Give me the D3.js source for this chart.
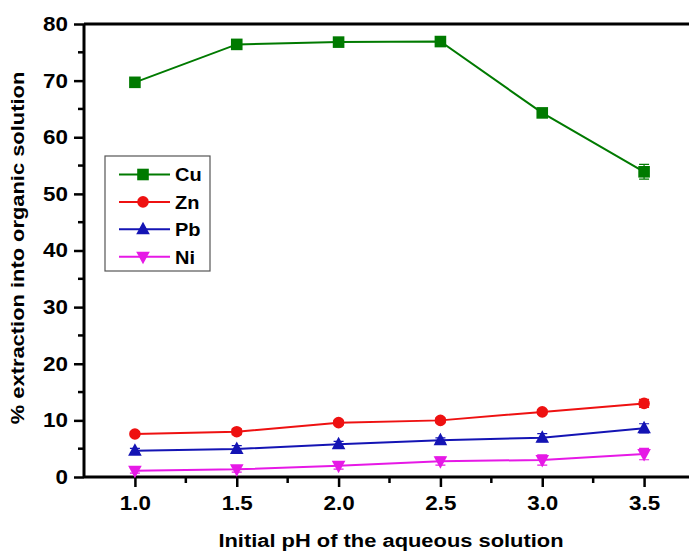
<!DOCTYPE html>
<html>
<head>
<meta charset="utf-8">
<script src="https://cdn.jsdelivr.net/npm/d3@7/dist/d3.min.js"></script>
<style>
  html, body { margin: 0; padding: 0; background: #fff; }
  svg { display: block; font-family: Arial, "Liberation Sans", sans-serif; }
</style>
</head>
<body>
<svg id="chart" width="689" height="554"></svg>
<script>
// pH values of the aqueous phase
const phValues = [1.0, 1.5, 2.0, 2.5, 3.0, 3.5];

// % extraction into the organic phase, per metal
const cuValues = [69.7, 76.4, 76.8, 76.9, 64.3, 53.9];
const znValues = [7.6, 8.0, 9.6, 10.0, 11.5, 13.0];
const pbValues = [4.65, 4.95, 5.8, 6.5, 6.95, 8.6];
const niValues = [1.1, 1.35, 2.0, 2.8, 3.0, 4.05];

// standard deviations (error bars)
const cuErrors = [0.4, 0.5, 0.4, 0.7, 0.6, 1.3];
const znErrors = [0.4, 0.5, 0.4, 0.4, 0.4, 0.7];
const pbErrors = [0.4, 0.6, 0.5, 0.4, 0.7, 0.8];
const niErrors = [0.4, 0.5, 0.6, 0.7, 0.9, 1.0];

const seriesNames = ["Cu", "Zn", "Pb", "Ni"];
const xTicks = [1.0, 1.5, 2.0, 2.5, 3.0, 3.5];
const yTicks = [0, 10, 20, 30, 40, 50, 60, 70, 80];

const series = [
  { name: "Cu", values: cuValues, errors: cuErrors, color: "#007a00", symbol: "square" },
  { name: "Zn", values: znValues, errors: znErrors, color: "#ee1111", symbol: "circle" },
  { name: "Pb", values: pbValues, errors: pbErrors, color: "#1414b4", symbol: "up" },
  { name: "Ni", values: niValues, errors: niErrors, color: "#e619e6", symbol: "down" }
];

const svg = d3.select("#chart");
const plot = { left: 84, right: 695, top: 24, bottom: 477 };

const x = d3.scaleLinear().domain([0.75, 3.75]).range([plot.left, plot.right]);
const y = d3.scaleLinear().domain([0, 80]).range([plot.bottom, plot.top]);

// widen a text element along its own baseline by the given factor
function widen(sel, factor) {
  sel.each(function () {
    const w = this.getComputedTextLength();
    d3.select(this).attr("textLength", w * factor).attr("lengthAdjust", "spacingAndGlyphs");
  });
}

// marker shapes
function markerPath(sym) {
  if (sym === "square") return "M-5.8,-5.8H5.8V5.8H-5.8Z";
  if (sym === "circle") return d3.symbol(d3.symbolCircle, 105)();
  if (sym === "up") return "M0,-7.5L6.8,5H-6.8Z";
  return "M0,7.5L6.8,-5H-6.8Z";
}

// frame: top border
svg.append("line")
  .attr("x1", plot.left).attr("x2", plot.right)
  .attr("y1", plot.top).attr("y2", plot.top)
  .attr("stroke", "#000").attr("stroke-width", 3);

// x axis
const xAxis = d3.axisBottom(x).tickValues(xTicks).tickFormat(d3.format(".1f"))
  .tickSize(10).tickPadding(9);
const gx = svg.append("g").attr("transform", `translate(0,${plot.bottom})`).call(xAxis);
const xMinor = d3.range(0.75, 3.8, 0.5).filter(v => v > 0.76 && v < 3.74);
gx.selectAll(".minor").data(xMinor).enter().append("line")
  .attr("class", "minor")
  .attr("x1", d => x(d)).attr("x2", d => x(d))
  .attr("y1", 0).attr("y2", 6)
  .attr("stroke", "#000").attr("stroke-width", 2.5);

// y axis
const yAxis = d3.axisLeft(y).tickValues(yTicks).tickSize(10).tickPadding(6);
const gy = svg.append("g").attr("transform", `translate(${plot.left},0)`).call(yAxis);
const yMinor = d3.range(5, 80, 10);
gy.selectAll(".minor").data(yMinor).enter().append("line")
  .attr("class", "minor")
  .attr("x1", 0).attr("x2", -6)
  .attr("y1", d => y(d)).attr("y2", d => y(d))
  .attr("stroke", "#000").attr("stroke-width", 2.5);

[gx, gy].forEach(g => {
  g.select(".domain").attr("stroke-width", 3);
  g.selectAll(".tick line").attr("stroke-width", 2.5);
  g.selectAll(".tick text").attr("font-size", 20).attr("font-weight", "bold").attr("fill", "#000")
    .call(widen, 1.12);
});
gx.select(".domain").attr("d", `M${plot.left},0H${plot.right}`);
gy.select(".domain").attr("d", `M0,${plot.top}V${plot.bottom}`);

// data series
const line = d3.line().x((d, i) => x(phValues[i])).y(d => y(d));
series.forEach(s => {
  const g = svg.append("g");
  g.append("path").datum(s.values)
    .attr("d", line).attr("fill", "none")
    .attr("stroke", s.color).attr("stroke-width", 2);
  // error bars
  s.values.forEach((v, i) => {
    const cx = x(phValues[i]);
    const e = s.errors[i];
    g.append("path")
      .attr("d", `M${cx},${y(v - e)}V${y(v + e)}M${cx - 5},${y(v - e)}H${cx + 5}M${cx - 5},${y(v + e)}H${cx + 5}`)
      .attr("stroke", s.color).attr("stroke-width", 1.2).attr("fill", "none");
  });
  g.selectAll(".pt").data(s.values).enter().append("path")
    .attr("transform", (d, i) => `translate(${x(phValues[i])},${y(d)})`)
    .attr("d", markerPath(s.symbol))
    .attr("fill", s.color);
});

// legend
const legend = svg.append("g").attr("transform", "translate(105,156)");
legend.append("rect").attr("width", 105).attr("height", 115)
  .attr("fill", "#fff").attr("stroke", "#555").attr("stroke-width", 1.2);
series.forEach((s, i) => {
  const ly = 18.5 + i * 27.4;
  const row = legend.append("g").attr("transform", `translate(0,${ly})`);
  row.append("line").attr("x1", 14).attr("x2", 65).attr("y1", 0).attr("y2", 0)
    .attr("stroke", s.color).attr("stroke-width", 2);
  row.append("path").attr("transform", "translate(38,0)")
    .attr("d", markerPath(s.symbol)).attr("fill", s.color);
  row.append("text").attr("x", 70).attr("y", 6.8)
    .attr("font-size", 18.5).attr("font-weight", "bold").text(seriesNames[i])
    .call(widen, 1.08);
});

// axis titles
svg.append("text")
  .attr("x", 391).attr("y", 547).attr("text-anchor", "middle")
  .attr("font-size", 17.5).attr("font-weight", "bold")
  .text("Initial pH of the aqueous solution")
  .call(widen, 1.25);
svg.append("text")
  .attr("transform", "translate(24,248) rotate(-90)")
  .attr("text-anchor", "middle")
  .attr("font-size", 17.5).attr("font-weight", "bold")
  .text("% extraction into organic solution")
  .call(widen, 1.25);
</script>
</body>
</html>
